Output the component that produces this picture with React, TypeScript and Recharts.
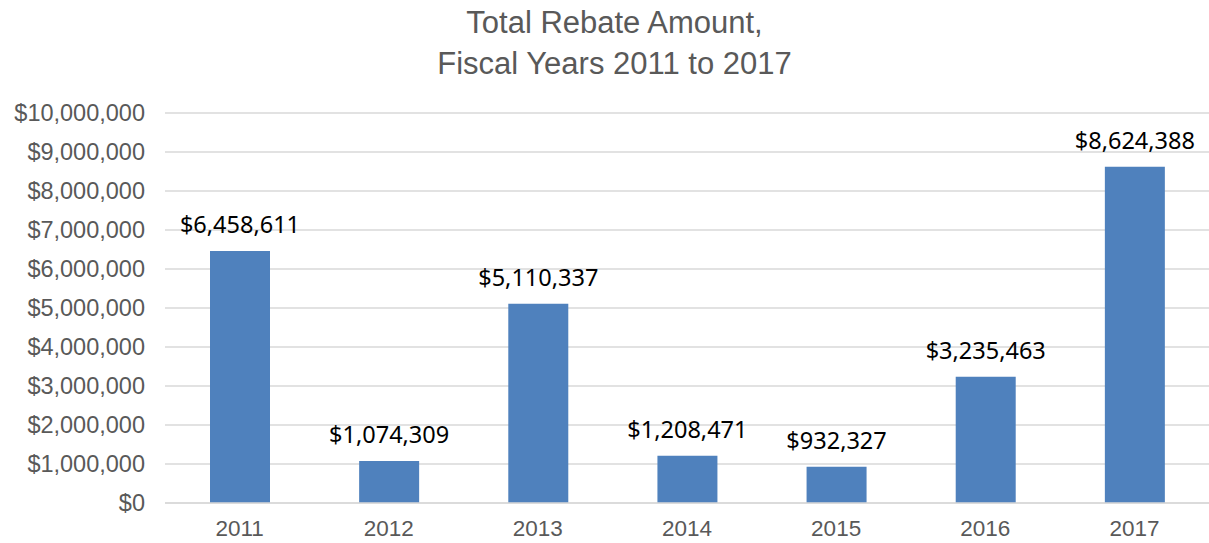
import React from "react";
import { BarChart, Bar, XAxis, YAxis, CartesianGrid, LabelList } from "recharts";

const years = ["2011", "2012", "2013", "2014", "2015", "2016", "2017"];
const rebates = [6458611, 1074309, 5110337, 1208471, 932327, 3235463, 8624388];
const yTicks = [0, 1000000, 2000000, 3000000, 4000000, 5000000, 6000000, 7000000, 8000000, 9000000, 10000000];

const data = years.map((year, i) => ({ year, amount: rebates[i] }));

const money = (v: number) => "$" + v.toLocaleString("en-US");

export default function App() {
  return (
    <div style={{ position: "relative", width: 1209, height: 543, background: "#fff" }}>
      <style>{"body{margin:0}"}</style>
      <div
        style={{
          position: "absolute",
          left: 0,
          top: 2,
          width: 1229,
          textAlign: "center",
          fontFamily: "'Liberation Sans', Arial, sans-serif",
          fontSize: 31,
          lineHeight: "41px",
          color: "#595959",
        }}
      >
        Total Rebate Amount,
        <br />
        Fiscal Years 2011 to 2017
      </div>
      <BarChart
        width={1209}
        height={543}
        data={data}
        margin={{ top: 113, right: 0, left: 0, bottom: 10 }}
        barSize={60}
      >
        <CartesianGrid vertical={false} stroke="#d9d9d9" strokeWidth={1.5} />
        <XAxis
          dataKey="year"
          tickLine={false}
          axisLine={{ stroke: "#d9d9d9", strokeWidth: 1.5 }}
          tick={{ fill: "#595959", fontSize: 22.5, fontFamily: "'Liberation Sans', Arial, sans-serif" }}
          tickMargin={11}
        />
        <YAxis
          width={165}
          domain={[0, 10000000]}
          ticks={yTicks}
          tickFormatter={money}
          axisLine={false}
          tickLine={false}
          tickMargin={14}
          tick={{ fill: "#595959", fontSize: 23.5, fontFamily: "'Liberation Sans', Arial, sans-serif" }}
        />
        <Bar dataKey="amount" fill="#4f81bd" isAnimationActive={false}>
          <LabelList
            dataKey="amount"
            position="top"
            offset={18}
            formatter={(v: number) => money(v)}
            style={{ fill: "#000", fontSize: 23.5, fontFamily: "'Noto Sans', sans-serif" }}
          />
        </Bar>
      </BarChart>
    </div>
  );
}
